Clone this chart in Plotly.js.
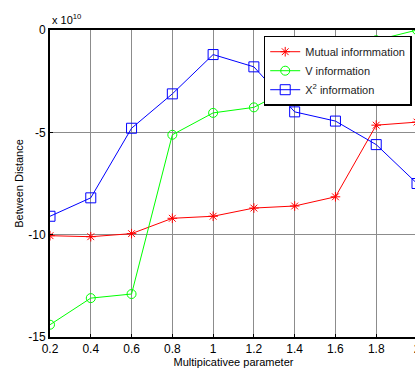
<!DOCTYPE html>
<html>
<head>
<meta charset="utf-8">
<script src="https://cdn.plot.ly/plotly-3.0.1.min.js"></script>
<style>
html,body{margin:0;padding:0;overflow:hidden;background:#fff;}
#chart{width:430px;height:370px;}
</style>
</head>
<body>
<div id="chart"></div>
<script>
const xValues = [0.2, 0.4, 0.6, 0.8, 1.0, 1.2, 1.4, 1.6, 1.8, 2.0];
const mutualInfo = [-10.05, -10.1, -9.95, -9.2, -9.1, -8.7, -8.6, -8.15, -4.65, -4.5];
const vInfo = [-14.4, -13.1, -12.9, -5.12, -4.05, -3.78, -2.75, -1.6, -0.5, 0.0];
const x2Info = [-9.1, -8.2, -4.8, -3.12, -1.2, -1.8, -4.0, -4.45, -5.6, -7.5];
const seriesNames = ["Mutual informmation", "V information", "X<sup>2</sup> information"];
const xTickVals = [0.2, 0.4, 0.6, 0.8, 1.0, 1.2, 1.4, 1.6, 1.8, 2.0];
const xTickText = ["0.2", "0.4", "0.6", "0.8", "1", "1.2", "1.4", "1.6", "1.8", "2"];
const yTickVals = [0, -5, -10, -15];
const yTickText = ["0", "-5", "-10", "-15"];

const traces = [
  {x: xValues, y: mutualInfo, name: seriesNames[0], mode: "lines+markers",
   line: {color: "#ff0000", width: 1},
   marker: {symbol: "asterisk-open", size: 8, color: "#ff0000", line: {color: "#ff0000", width: 1}}},
  {x: xValues, y: vInfo, name: seriesNames[1], mode: "lines+markers",
   line: {color: "#00ff00", width: 1},
   marker: {symbol: "circle-open", size: 9, color: "#00ff00", line: {color: "#00ff00", width: 1}}},
  {x: xValues, y: x2Info, name: seriesNames[2], mode: "lines+markers",
   line: {color: "#0000ff", width: 1},
   marker: {symbol: "square-open", size: 10, color: "#0000ff", line: {color: "#0000ff", width: 1}}}
];

const layout = {
  width: 430, height: 370,
  margin: {l: 50, r: 13, t: 30, b: 33, pad: 0},
  paper_bgcolor: "#ffffff", plot_bgcolor: "#ffffff",
  font: {family: "Liberation Sans, Arial, sans-serif", size: 11, color: "#000"},
  showlegend: true,
  legend: {x: 0.9856, xanchor: "right", y: 0.9814, yanchor: "top",
    bgcolor: "#ffffff", bordercolor: "#000", borderwidth: 1.5,
    font: {size: 11, color: "#222"}, tracegroupgap: 0, itemwidth: 30},
  xaxis: {range: [0.2, 2.0], tickvals: xTickVals, ticktext: xTickText,
    showgrid: true, gridcolor: "#8c8c8c", gridwidth: 1, zeroline: false,
    showline: true, linecolor: "#000", linewidth: 2, mirror: true,
    ticks: "inside", ticklen: 3, tickcolor: "#000",
    tickfont: {size: 12}, automargin: false,
    title: {text: "Multipicativee parameter", font: {size: 11}, standoff: 2}},
  yaxis: {range: [-15, 0], tickvals: yTickVals, ticktext: yTickText,
    showgrid: true, gridcolor: "#8c8c8c", gridwidth: 1, zeroline: false,
    showline: true, linecolor: "#000", linewidth: 2, mirror: true,
    ticks: "inside", ticklen: 3, tickcolor: "#000",
    tickfont: {size: 12}, automargin: false,
    title: {text: "Between Distance", font: {size: 11}, standoff: 2}},
  annotations: [{text: "x 10<sup>10</sup>", xref: "paper", yref: "paper", x: 0, y: 1,
    xanchor: "left", yanchor: "bottom", yshift: 2, showarrow: false, font: {size: 11}}]
};

Plotly.newPlot("chart", traces, layout, {displayModeBar: false, staticPlot: true});
</script>
</body>
</html>
